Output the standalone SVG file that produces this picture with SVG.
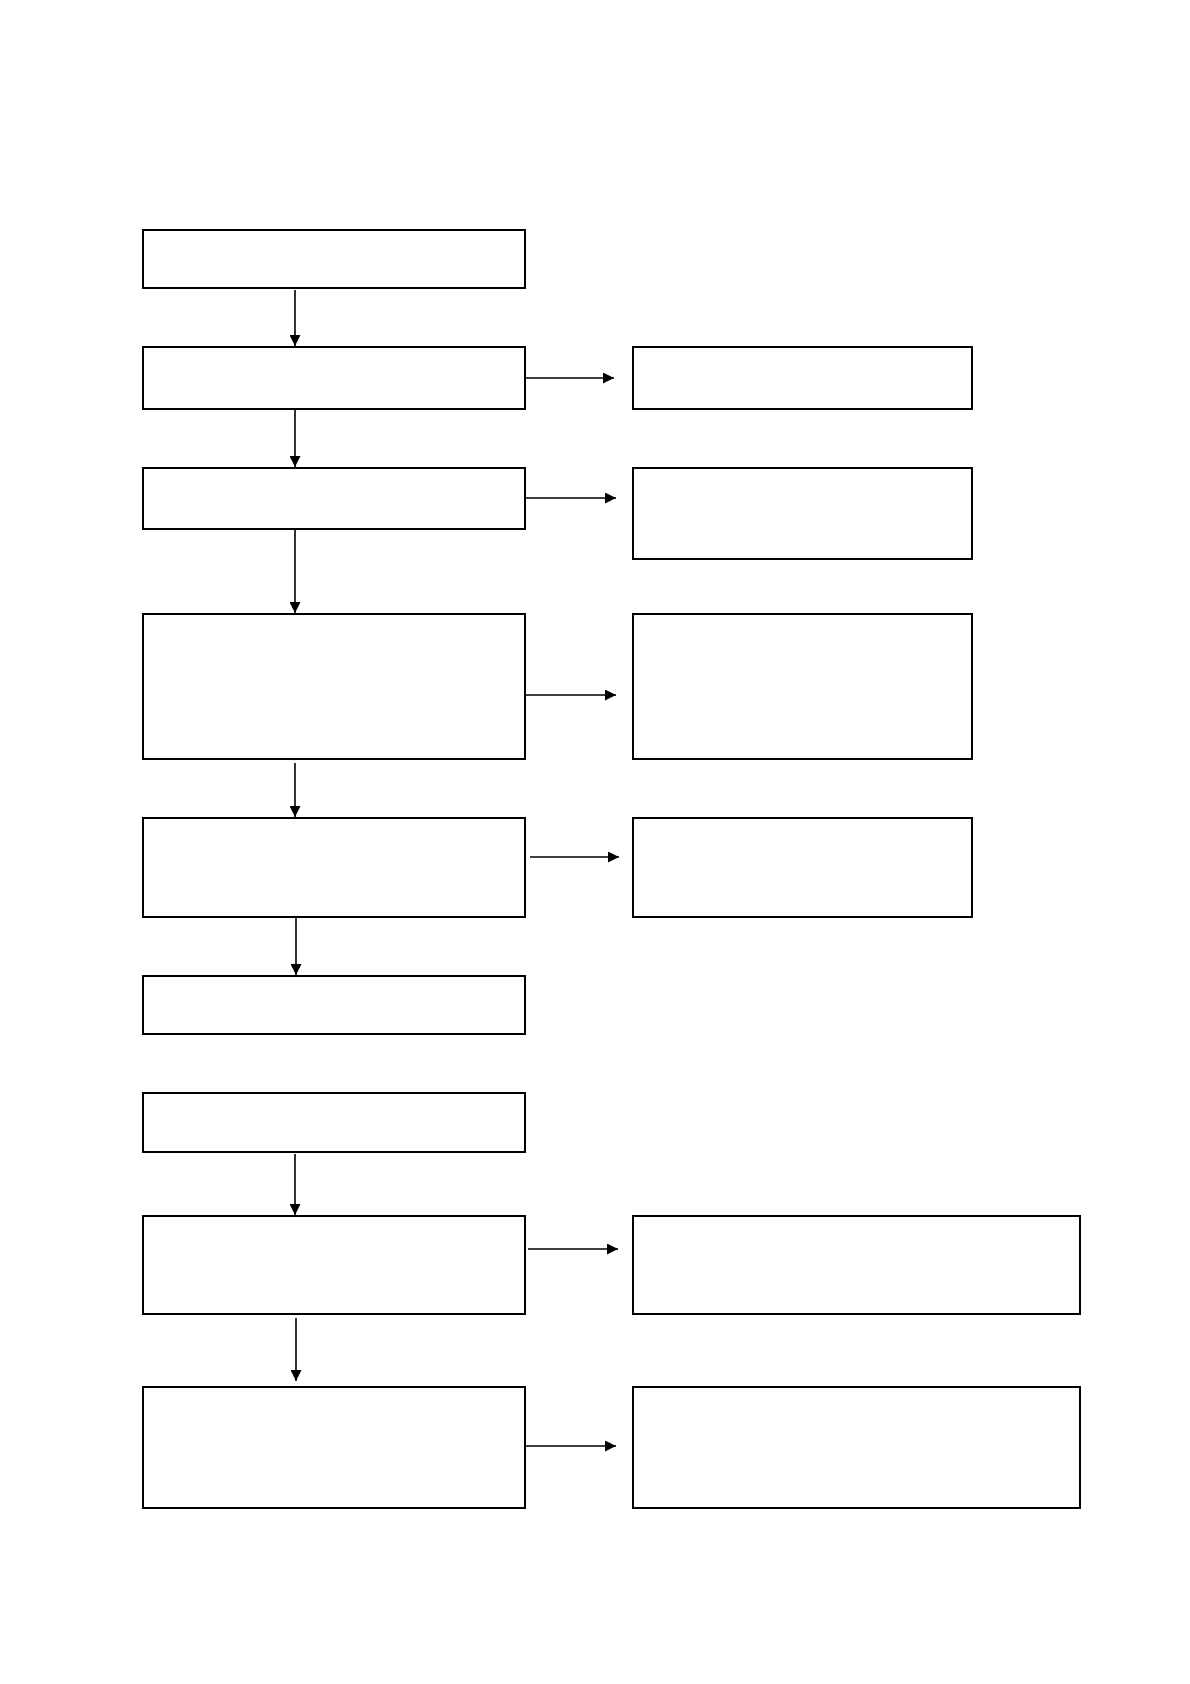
<svg xmlns="http://www.w3.org/2000/svg" width="1190" height="1684" viewBox="0 0 1190 1684">
<style>
.box{fill:#fff;stroke:#000;stroke-width:2}
.con{fill:none;stroke:#000;stroke-width:1.6}
</style>
<defs>
<marker id="ah" viewBox="0 0 10 10" refX="10" refY="5" markerWidth="11" markerHeight="11" markerUnits="userSpaceOnUse" orient="auto">
<path d="M0,0 L10,5 L0,10 Z" fill="#000"/>
</marker>
</defs>
<rect width="1190" height="1684" fill="#fff"/>
<g id="n1"><rect class="box" x="143" y="230" width="382" height="58"/></g>
<g id="n2"><rect class="box" x="143" y="347" width="382" height="62"/></g>
<g id="n3"><rect class="box" x="143" y="468" width="382" height="61"/></g>
<g id="n4"><rect class="box" x="143" y="614" width="382" height="145"/></g>
<g id="n5"><rect class="box" x="143" y="818" width="382" height="99"/></g>
<g id="n6"><rect class="box" x="143" y="976" width="382" height="58"/></g>
<g id="n7"><rect class="box" x="143" y="1093" width="382" height="59"/></g>
<g id="n8"><rect class="box" x="143" y="1216" width="382" height="98"/></g>
<g id="n9"><rect class="box" x="143" y="1387" width="382" height="121"/></g>
<g id="r1"><rect class="box" x="633" y="347" width="339" height="62"/></g>
<g id="r2"><rect class="box" x="633" y="468" width="339" height="91"/></g>
<g id="r3"><rect class="box" x="633" y="614" width="339" height="145"/></g>
<g id="r4"><rect class="box" x="633" y="818" width="339" height="99"/></g>
<g id="r5"><rect class="box" x="633" y="1216" width="447" height="98"/></g>
<g id="r6"><rect class="box" x="633" y="1387" width="447" height="121"/></g>
<g id="connectors" class="con">
<line x1="295" y1="290" x2="295" y2="346" marker-end="url(#ah)"/>
<line x1="295" y1="410" x2="295" y2="467" marker-end="url(#ah)"/>
<line x1="295" y1="530" x2="295" y2="613" marker-end="url(#ah)"/>
<line x1="295" y1="763" x2="295" y2="817" marker-end="url(#ah)"/>
<line x1="296" y1="918" x2="296" y2="975" marker-end="url(#ah)"/>
<line x1="295" y1="1154" x2="295" y2="1215" marker-end="url(#ah)"/>
<line x1="296" y1="1318" x2="296" y2="1381" marker-end="url(#ah)"/>
<line x1="526" y1="378" x2="614" y2="378" marker-end="url(#ah)"/>
<line x1="526" y1="498" x2="616" y2="498" marker-end="url(#ah)"/>
<line x1="526" y1="695" x2="616" y2="695" marker-end="url(#ah)"/>
<line x1="530" y1="857" x2="619" y2="857" marker-end="url(#ah)"/>
<line x1="528" y1="1249" x2="618" y2="1249" marker-end="url(#ah)"/>
<line x1="526" y1="1446" x2="616" y2="1446" marker-end="url(#ah)"/>
</g>
</svg>
